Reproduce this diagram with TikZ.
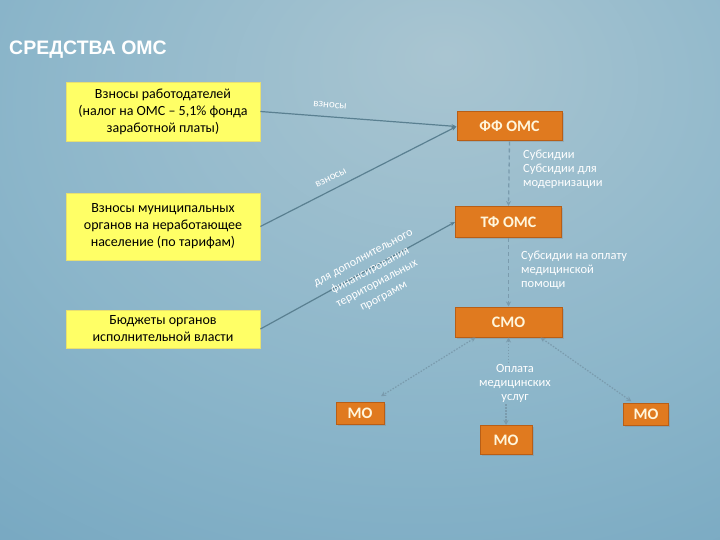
\documentclass[tikz,border=0pt]{standalone}
\usepackage{fontspec}
\setmainfont{Carlito}
\newfontfamily\titlefont{Liberation Sans}
\usetikzlibrary{arrows.meta,shadows}
\definecolor{bgA}{HTML}{A9C5D1}
\definecolor{bgB}{HTML}{8CB6CA}
\definecolor{bgC}{HTML}{6DA1BD}
\definecolor{bgD}{HTML}{5A8EAD}
\definecolor{yel}{HTML}{FFFF66}
\definecolor{yelB}{HTML}{E8E070}
\definecolor{org}{HTML}{E07A1F}
\definecolor{orgB}{HTML}{B85E16}
\definecolor{lin}{HTML}{5A8091}
\definecolor{dln}{HTML}{7A9BAD}
\definecolor{otxt}{HTML}{FFF6DC}
\pgfdeclareradialshading{bgshade}{\pgfpoint{6bp}{20bp}}{%
  color(0bp)=(bgA); color(28bp)=(bgB); color(58bp)=(bgC); color(85bp)=(bgD); color(120bp)=(bgD)}
\tikzset{
  ybox/.style={draw=yelB, line width=0.8pt, fill=yel, align=center, inner sep=0pt,
    font=\fontsize{14}{17}\selectfont, text=black,
    drop shadow={opacity=0.25, shadow xshift=1.2pt, shadow yshift=-1.2pt}},
  obox/.style={draw=orgB, line width=1pt, fill=org, inner sep=0pt,
    font=\bfseries\fontsize{16}{18}\selectfont, text=otxt,
    drop shadow={opacity=0.3, shadow xshift=1.5pt, shadow yshift=-1.5pt}},
  conn/.style={draw=lin, line width=1.2pt, -{Stealth[length=5pt,width=4pt]}},
  dconn/.style={draw=dln, line width=1.3pt, dashed, dash pattern=on 4pt off 3pt, -{Stealth[length=5pt,width=5pt]}},
  pconn/.style={draw=dln, line width=1.2pt, dash pattern=on 1.5pt off 1.5pt, {Stealth[length=5pt,width=5pt]}-{Stealth[length=5pt,width=5pt]}},
  pline/.style={draw=dln, line width=1.2pt, dash pattern=on 1.5pt off 1.5pt},
  wlab/.style={text=white, font=\fontsize{12.5}{14}\selectfont, inner sep=0pt},
}
\begin{document}
\begin{tikzpicture}[x=1pt,y=-1pt]
\useasboundingbox (0,0) rectangle (720,540);
\shade[shading=bgshade] (0,0) rectangle (720,540);

\node[anchor=west, text=white, font=\titlefont\bfseries\fontsize{19.5}{22}\selectfont, inner sep=0pt] (title) at (9,50) {СРЕДСТВА ОМС};

\node[ybox, minimum width=194pt, minimum height=59pt] (y1) at (163,111.5)
  {Взносы работодателей\\(налог на ОМС – 5,1\% фонда\\заработной платы)};
\node[ybox, minimum width=194pt, minimum height=67pt] (y2) at (163,226.5)
  {Взносы муниципальных\\органов на неработающее\\население (по тарифам)};
\node[ybox, minimum width=194pt, minimum height=38pt] (y3) at (163,329)
  {Бюджеты органов\\исполнительной власти};

\node[obox, minimum width=105pt, minimum height=29pt] (ff) at (509.5,126.5) {ФФ ОМС};
\node[obox, minimum width=106pt, minimum height=31pt] (tf) at (508.5,222) {ТФ ОМС};
\node[obox, minimum width=107pt, minimum height=30pt] (smo) at (508.5,322) {СМО};
\node[obox, minimum width=48pt, minimum height=22pt] (mo1) at (360,413) {МО};
\node[obox, minimum width=45pt, minimum height=22pt] (mo2) at (646,414) {МО};
\node[obox, minimum width=52pt, minimum height=29pt] (mo3) at (506,440) {МО};

\node[wlab, align=center, inner sep=2pt] (l6) at (515,383)
  {Оплата\\медицинских\\услуг};

\draw[conn] (y1.east) -- (ff.west);
\draw[conn] (y2.east) -- (ff.west);
\draw[conn] (y3.east) -- (tf.west);
\draw[dconn] (ff.south) -- (tf.north);
\draw[dconn] (tf.south) -- (smo.north);
\draw[pconn, shorten >=10pt] ([xshift=-33pt]smo.south) -- ([xshift=-12pt]mo1.north east);
\draw[pline, {Stealth[length=5pt,width=5pt]}-] (smo.south) -- (smo.south |- l6.north);
\draw[pline, -{Stealth[length=5pt,width=5pt]}] (mo3.north |- l6.south) -- (mo3.north);
\draw[pconn, shorten >=2pt] ([xshift=32pt]smo.south) -- ([xshift=10pt]mo2.north west);

\node[wlab, font=\fontsize{11}{12}\selectfont, rotate=-5] (l1) at (330,105) {взносы};
\node[wlab, font=\fontsize{11}{12}\selectfont, rotate=27] (l2) at (331,178) {взносы};
\node[wlab, align=center, rotate=28, font=\fontsize{12}{14.5}\selectfont] (l3) at (374,278)
  {для дополнительного\\финансирования\\территориальных\\программ};
\node[wlab, align=left, anchor=north west] (l4) at (523,150)
  {Субсидии\\Субсидии для\\модернизации};
\node[wlab, align=left, anchor=north west] (l5) at (521,251)
  {Субсидии на оплату\\медицинской\\помощи};
\end{tikzpicture}
\end{document}
